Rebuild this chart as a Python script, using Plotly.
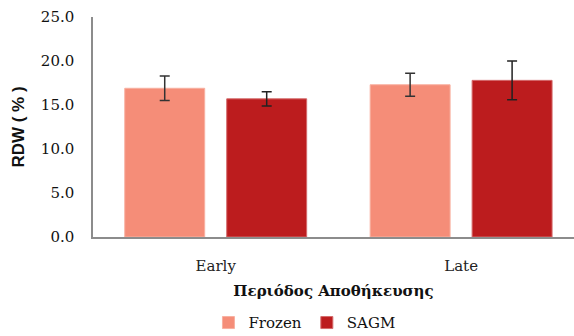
import plotly.graph_objects as go

periods = ["Early", "Late"]
frozen = [16.9, 17.3]
frozen_err = [1.4, 1.3]
sagm = [15.7, 17.8]
sagm_err = [0.8, 2.2]

serif = "DejaVu Serif"
sans = "Liberation Sans"

fig = go.Figure()
fig.add_trace(go.Bar(
    name="Frozen", x=periods, y=frozen,
    marker=dict(color="#F58D78", line=dict(color="#F8B0A0", width=1)),
    error_y=dict(type="data", array=frozen_err, color="#333333", thickness=1.5, width=5),
))
fig.add_trace(go.Bar(
    name="SAGM", x=periods, y=sagm,
    marker=dict(color="#BC1C1E", line=dict(color="#D46A6B", width=1)),
    error_y=dict(type="data", array=sagm_err, color="#222222", thickness=1.5, width=5),
))

fig.update_layout(
    width=574, height=336,
    margin=dict(l=93, r=0, t=17, b=99, autoexpand=False),
    paper_bgcolor="white", plot_bgcolor="white",
    barmode="group", bargap=0.169, bargroupgap=0.216,
    showlegend=True,
    legend=dict(orientation="h", x=0.24, xanchor="left", y=-0.39, yanchor="middle",
                font=dict(family=serif, size=15, color="#111111"),
                itemwidth=30, tracegroupgap=0),
    font=dict(family=serif, color="#222222"),
)
fig.update_xaxes(
    range=[-0.5, 1.46], showline=True, linecolor="#8C8C8C", linewidth=1.5,
    ticks="", ticklabelstandoff=14, tickfont=dict(family=serif, size=15, color="#222222"),
    title=dict(text="<b>Περιόδος Αποθήκευσης</b>", font=dict(family=serif, size=15, color="#111111"),
               standoff=12),
)
fig.update_yaxes(
    range=[0, 25], dtick=5, tickformat=".1f", showgrid=False, zeroline=False,
    showline=True, linecolor="#8C8C8C", linewidth=1.5, ticks="", ticklabelstandoff=14,
    tickfont=dict(family=serif, size=15, color="#111111"),
    title=dict(text="<b>RDW ( % )</b>", font=dict(family=sans, size=17, color="#111111"), standoff=12),
)

fig.write_html("out.html")
